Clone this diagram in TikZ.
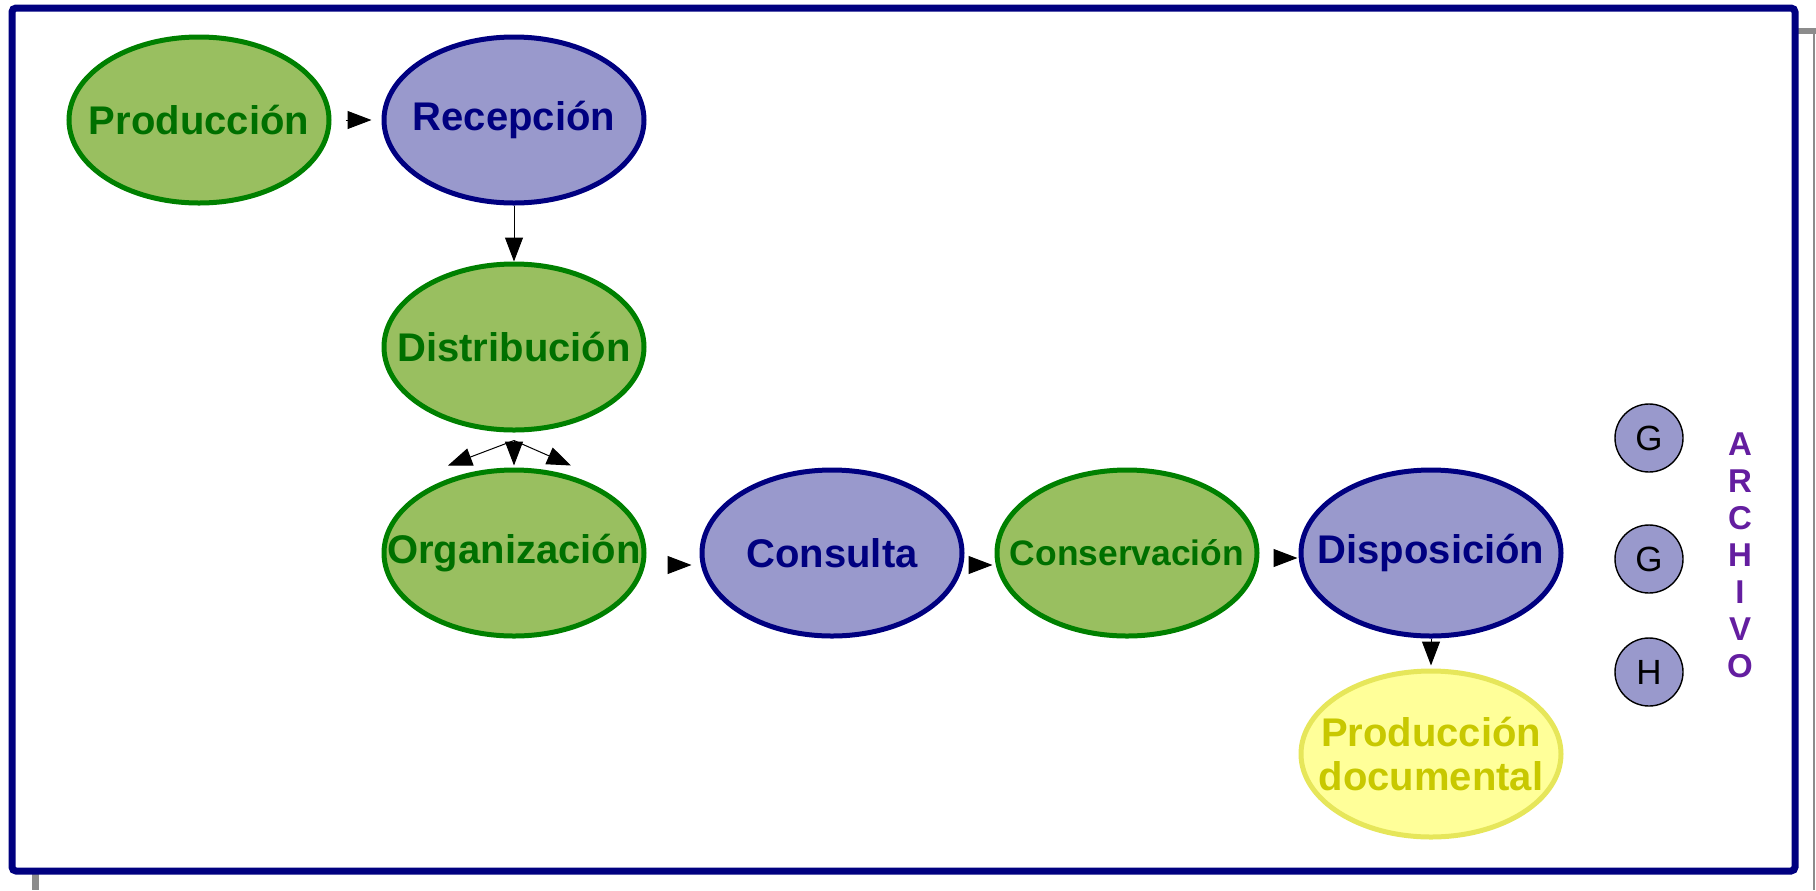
\documentclass[tikz,border=0pt]{standalone}
\usepackage{fontspec}
\setmainfont{Liberation Sans}
\usepackage{tikz}
\usetikzlibrary{shapes}
\usetikzlibrary{arrows.meta,positioning}

\definecolor{verdefondo}{RGB}{153,191,96}
\definecolor{verdeborde}{RGB}{0,128,0}
\definecolor{verdetexto}{RGB}{0,112,0}
\definecolor{azulfondo}{RGB}{153,153,204}
\definecolor{azulborde}{RGB}{0,0,128}
\definecolor{amarillofondo}{RGB}{255,255,153}
\definecolor{amarilloborde}{RGB}{230,230,90}
\definecolor{amarillotexto}{RGB}{200,200,0}
\definecolor{morado}{RGB}{100,30,160}

\tikzset{
  etapa/.style={ellipse,line width=2.5pt,minimum width=130pt,minimum height=83pt,
    inner xsep=-25pt,inner ysep=0pt,
    align=center,font=\bfseries\fontsize{20pt}{22pt}\selectfont},
  verde/.style={etapa,draw=verdeborde,fill=verdefondo,text=verdetexto},
  azul/.style={etapa,draw=azulborde,fill=azulfondo,text=azulborde},
  amarillo/.style={etapa,draw=amarilloborde,fill=amarillofondo,text=amarillotexto},
  letra/.style={circle,draw=black,line width=0.7pt,fill=azulfondo,minimum size=34pt,inner sep=0pt,
    font=\fontsize{17.5pt}{17.5pt}\selectfont},
  flecha/.style={-{Triangle[length=12pt,width=9pt]},line width=0.5pt}
}

\begin{document}
\begin{tikzpicture}[x=0.5pt,y=-0.5pt,node distance=2cm,on grid]

  \useasboundingbox (0,0) rectangle (1816,890);
  % marco
  \draw[gray!90,line width=3pt] (1797,31) -- (1816,31);
  \draw[gray!90,line width=0.8pt] (1814,31) -- (1814,890);
  \draw[gray!90,line width=3.5pt] (35,872) -- (35,890);
  \draw[azulborde,line width=3.5pt,rounded corners=2pt] (12,8) rectangle (1795,871);

  \node[verde]		(prod)		at (199,120)		{Producción};
  \node[azul]		(recep)		[right=157.5pt of prod]	{Recepción};
  \node[verde]		(dist)		[below=113.5pt of recep]	{Distribución};
  \node[verde]		(org)		[below=103pt of dist]	{Organización};
  \node[azul]		(consul)	[right=159pt of org]	{Consulta};
  \node[verde,font=\bfseries\fontsize{17.7pt}{20pt}\selectfont]
  			(conserv)	[right=147.5pt of consul]	{Conservación};
  \node[azul]		(dispo)		[right=152pt of conserv]	{Disposición};
  \node[amarillo]	(proddoc)	[below=100.5pt of dispo]	{Producción\\documental};

  \node[letra]		(g1)		at (1649,438)		{G};
  \node[letra]		(g2)		at (1649,559)		{G};
  \node[letra]		(h)		at (1649,672)		{H};
  \node[text=morado,align=center,font=\bfseries\fontsize{16.5pt}{18.5pt}\selectfont]
  			(archivo)	at (1740,555)		{A\\R\\C\\H\\I\\V\\O};

  \coordinate (abanico) at ([yshift=-4pt]dist.south);
  \coordinate (orgizq) at ([xshift=-33pt,yshift=1pt]org.north);
  \coordinate (orgcen) at ([yshift=1pt]org.north);
  \coordinate (orgder) at ([xshift=28.5pt,yshift=1pt]org.north);

\path[flecha]
     (prod)	edge	[shorten <=7pt,shorten >=5pt]	(recep)
     (recep)	edge					(dist)
     (abanico)	edge					(orgizq)
     (abanico)	edge					(orgcen)
     (abanico)	edge					(orgder)
     ([yshift=-6pt]org.east)	edge	[shorten <=11pt,shorten >=4pt]	([yshift=-6pt]consul.west)
     ([yshift=-6pt]consul.east)	edge	[shorten <=3.5pt,shorten >=1pt]	([yshift=-6pt]conserv.west)
     ([yshift=-2.5pt]conserv.east)	edge	[shorten <=8pt,shorten >=0.5pt]	([yshift=-2.5pt]dispo.west)
     (dispo)	edge	[shorten >=1.5pt]		(proddoc)
  ;
\end{tikzpicture}
\end{document}
